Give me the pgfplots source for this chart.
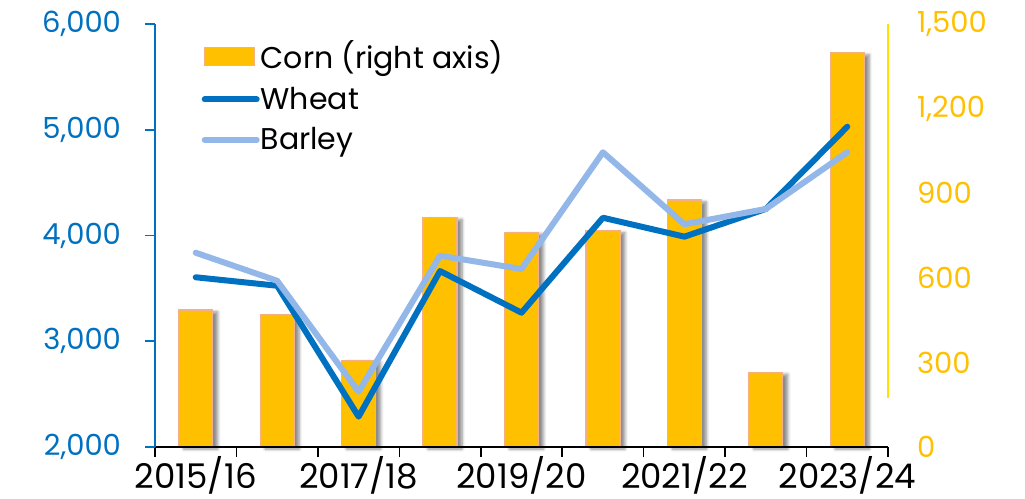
\documentclass[border=0pt]{standalone}
\usepackage{fontspec}
\setmainfont{Poppins}
\usepackage{pgfplots}
\pgfplotsset{compat=1.18}
\usetikzlibrary{shadows.blur}

\definecolor{barfill}{RGB}{255,192,0}
\definecolor{baredge}{RGB}{244,177,131}
\definecolor{wheat}{RGB}{0,112,192}
\definecolor{barley}{RGB}{146,183,232}
\definecolor{yline}{RGB}{255,226,0}

\pgfplotsset{
    linelegend/.style={legend image code/.code={\draw[##1] (0pt,0pt) -- (26pt,0pt);}},
    barlegend/.style={legend image code/.code={\path[fill=barfill, draw=baredge, line width=0.6pt] (0pt,-4.5pt) rectangle (25pt,4.5pt);}},
}

\begin{document}
\begin{tikzpicture}
% right axis: corn bars and the legend
\begin{axis}[name=right,
    scale only axis, width=366.5pt, height=211.5pt,
    xmin=-0.5, xmax=8.5, ymin=0, ymax=1500, clip=false,
    axis x line=none, axis y line*=right,
    y axis line style={draw=none},
    ytick={0,300,...,1500}, major tick length=0pt,
    yticklabel style={anchor=west, xshift=11pt, text=barfill,
        font=\fontsize{14.5}{16}\selectfont},
    /pgf/number format/1000 sep={,},
    /pgf/number format/assume math mode=true,
    legend style={at={(0.055,0.98)}, anchor=north west, draw=none, fill=none,
        font=\fontsize{15}{17}\selectfont, row sep=3.5pt,
        /tikz/every odd column/.append style={column sep=-1.5pt}},
    legend cell align=left,
]
\addlegendimage{barlegend}
\addlegendentry{Corn (right axis)}
\addlegendimage{wheat, line width=3pt, line cap=round, linelegend}
\addlegendentry{Wheat}
\addlegendimage{barley, line width=3pt, line cap=round, linelegend}
\addlegendentry{Barley}
\addplot[ybar, bar width=17pt, bar shift=0pt, fill=barfill, draw=baredge, line width=0.6pt,
    blur shadow={shadow xshift=2.5pt, shadow yshift=-1pt, shadow opacity=45,
        shadow blur radius=1.5pt, shadow blur steps=6}, forget plot]
    coordinates {(0,486) (1,470) (2,308) (3,814) (4,762) (5,767) (6,876) (7,265) (8,1398)};
\draw[yline, line width=0.9pt] (axis cs:8.5,1500) -- (axis cs:8.5,175);
\end{axis}

% left axis: wheat and barley
\begin{axis}[name=main,
    scale only axis, width=366.5pt, height=211.5pt,
    xmin=-0.5, xmax=8.5, ymin=2000, ymax=6000,
    axis x line*=bottom, axis y line*=left,
    x axis line style={black, line width=0.8pt},
    y axis line style={wheat, line width=0.8pt},
    tick align=outside, major tick length=5pt,
    xtick={-0.5,0.5,...,8.5}, xticklabels={},
    x tick style={black, line width=0.8pt},
    extra x ticks={0,2,4,6,8},
    extra x tick labels={2015/16,2017/18,2019/20,2021/22,2023/24},
    extra x tick style={major tick length=0pt, tick style={draw=none},
        tick label style={yshift=-1pt, font=\fontsize{17}{19}\selectfont}},
    ytick={2000,3000,...,6000},
    y tick style={wheat, line width=0.8pt},
    yticklabel style={xshift=-8.5pt, text=wheat, font=\fontsize{14.5}{16}\selectfont},
    /pgf/number format/1000 sep={,},
    /pgf/number format/assume math mode=true,
]
\addplot[wheat, line width=3pt, line join=round, line cap=round]
    coordinates {(0,3605) (1,3525) (2,2287) (3,3664) (4,3270) (5,4168) (6,3989) (7,4251) (8,5029)};
\addplot[barley, line width=3pt, line join=round, line cap=round]
    coordinates {(0,3837) (1,3572) (2,2523) (3,3809) (4,3683) (5,4787) (6,4106) (7,4251) (8,4787)};
\end{axis}
\path (main.south west) ++(-77.5pt,-25.5pt) coordinate (bl);
\path (main.north east) ++(68.5pt,12pt) coordinate (tr);
\pgfresetboundingbox
\path[use as bounding box] (bl) rectangle (tr);
\end{tikzpicture}
\end{document}
